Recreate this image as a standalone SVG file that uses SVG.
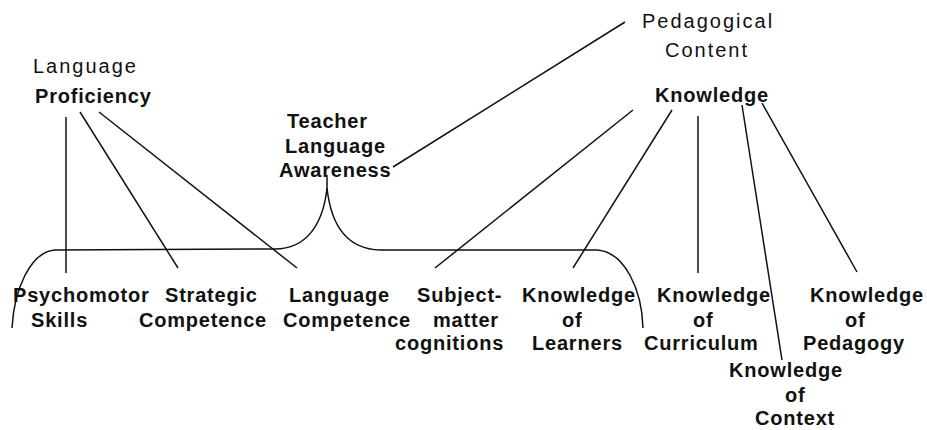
<svg xmlns="http://www.w3.org/2000/svg" width="927" height="430" viewBox="0 0 927 430">
<style>
text{font-family:"Liberation Sans",Arial,sans-serif;font-size:20px;fill:#111}
.b{font-weight:bold;letter-spacing:0.8px}
.r{letter-spacing:2px}
.c{fill:none;stroke:#111;stroke-width:1.5}
</style>
<rect width="927" height="430" fill="#fff"/>
<g id="connectors" class="c">
<line x1="66" y1="117" x2="66" y2="273"/>
<line x1="80" y1="112" x2="178" y2="268"/>
<line x1="99" y1="112" x2="297" y2="268"/>
<line x1="625" y1="22" x2="393" y2="167"/>
<line x1="633" y1="110" x2="435" y2="268"/>
<line x1="672" y1="110" x2="573" y2="268"/>
<line x1="698" y1="116" x2="698" y2="273"/>
<line x1="742" y1="105" x2="782" y2="360"/>
<line x1="762" y1="103" x2="857" y2="272"/>
<path d="M327,175 L327,188 C323,225 306,249 275,249 L55,250 C30,252 14,290 12,328"/>
<path d="M327,188 C331,225 346,249 380,250 L597,250 C625,252 642,290 643,328"/>
</g>
<g id="language-proficiency">
<text class="r" x="33" y="73">Language</text>
<text class="b" x="35" y="103">Proficiency</text>
</g>
<g id="teacher-language-awareness">
<text class="b" x="287" y="128">Teacher</text>
<text class="b" x="285" y="153">Language</text>
<text class="b" x="279" y="177">Awareness</text>
</g>
<g id="pedagogical-content-knowledge">
<text class="r" x="642" y="28">Pedagogical</text>
<text class="r" x="665" y="57">Content</text>
<text class="b" x="655" y="102">Knowledge</text>
</g>
<g id="psychomotor-skills">
<text class="b" x="13" y="302">Psychomotor</text>
<text class="b" x="31" y="327">Skills</text>
</g>
<g id="strategic-competence">
<text class="b" x="165" y="302">Strategic</text>
<text class="b" x="139" y="327">Competence</text>
</g>
<g id="language-competence">
<text class="b" x="289" y="302">Language</text>
<text class="b" x="283" y="327">Competence</text>
</g>
<g id="subject-matter-cognitions">
<text class="b" x="417" y="302">Subject-</text>
<text class="b" x="433" y="327">matter</text>
<text class="b" x="395" y="350">cognitions</text>
</g>
<g id="knowledge-of-learners">
<text class="b" x="522" y="302">Knowledge</text>
<text class="b" x="562" y="327">of</text>
<text class="b" x="532" y="350">Learners</text>
</g>
<g id="knowledge-of-curriculum">
<text class="b" x="657" y="302">Knowledge</text>
<text class="b" x="693" y="327">of</text>
<text class="b" x="644" y="350">Curriculum</text>
</g>
<g id="knowledge-of-pedagogy">
<text class="b" x="810" y="302">Knowledge</text>
<text class="b" x="845" y="327">of</text>
<text class="b" x="803" y="350">Pedagogy</text>
</g>
<g id="knowledge-of-context">
<text class="b" x="729" y="377">Knowledge</text>
<text class="b" x="785" y="402">of</text>
<text class="b" x="755" y="425">Context</text>
</g>
</svg>
